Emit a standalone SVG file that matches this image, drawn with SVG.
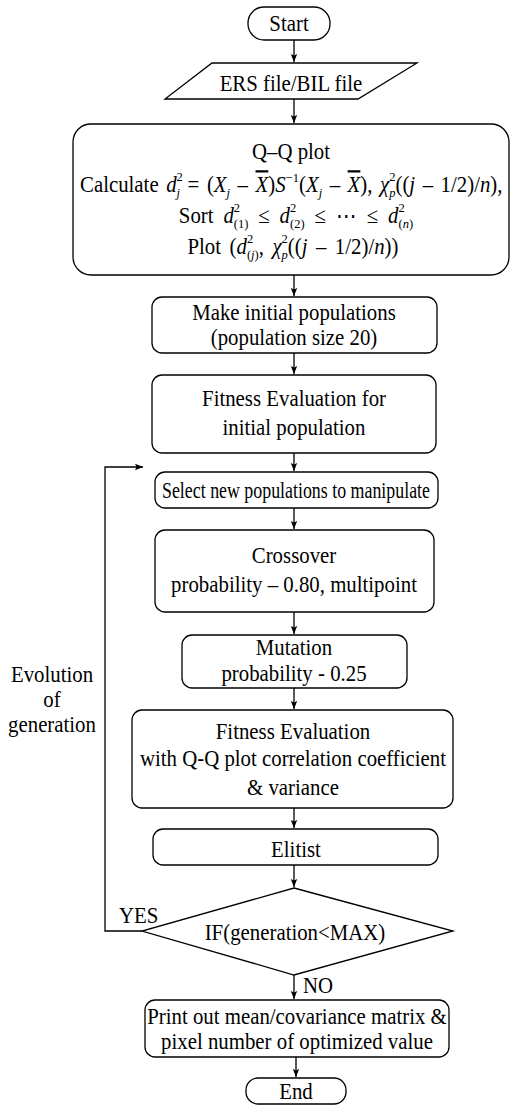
<svg xmlns="http://www.w3.org/2000/svg" width="510" height="1106" viewBox="0 0 510 1106">
<style>
text{font-family:"Liberation Serif","Times New Roman",serif;font-size:22.4px;fill:#000;transform-box:fill-box;transform:scaleX(0.93)}
.m{text-anchor:middle;transform-origin:50% 50%}
.l{transform-origin:0 50%}
.ns{transform:none}
.i{font-style:italic}
.s{font-size:13.5px}
.ov{text-decoration:overline}
.b{fill:#fff;stroke:#000;stroke-width:1.3}
.c{fill:none;stroke:#000;stroke-width:1.3}
</style>
<defs>
<marker id="ah" markerUnits="userSpaceOnUse" markerWidth="10" markerHeight="10" refX="8" refY="4" orient="auto">
<path d="M0,0.8 L8,4 L0,7.2 L1.5,4 z" fill="#000"/>
</marker>
</defs>
<rect width="510" height="1106" fill="#fff"/>

<g id="connectors">
<path class="c" d="M294,40 V62" marker-end="url(#ah)"/>
<path class="c" d="M294,99 V123" marker-end="url(#ah)"/>
<path class="c" d="M294,275 V296" marker-end="url(#ah)"/>
<path class="c" d="M294,353 V374" marker-end="url(#ah)"/>
<path class="c" d="M294,453 V471" marker-end="url(#ah)"/>
<path class="c" d="M294,508 V529" marker-end="url(#ah)"/>
<path class="c" d="M294,612 V634" marker-end="url(#ah)"/>
<path class="c" d="M294,688 V709" marker-end="url(#ah)"/>
<path class="c" d="M294,808 V828" marker-end="url(#ah)"/>
<path class="c" d="M294,865 V887" marker-end="url(#ah)"/>
<path class="c" d="M294,975 V999" marker-end="url(#ah)"/>
<path class="c" d="M296,1057 V1077" marker-end="url(#ah)"/>
<path class="c" d="M142,931 H105 V467 H143" marker-end="url(#ah)"/>
<text class="l" x="119" y="923">YES</text>
<text class="l" x="303" y="993">NO</text>
<text class="m" x="52" y="682">Evolution</text>
<text class="m" x="52" y="707">of</text>
<text class="m" x="52" y="732">generation</text>
</g>

<g id="start">
<rect class="b" x="248" y="7" width="82" height="33" rx="16"/>
<text class="m" x="289" y="31">Start</text>
</g>

<g id="input">
<polygon class="b" points="212,63 417,63 358,99 165,99"/>
<text class="m" x="291" y="91">ERS file/BIL file</text>
</g>

<g id="qqplot">
<rect class="b" x="73" y="124" width="436" height="151" rx="18"/>
<text class="m" x="291" y="159">Q–Q plot</text>
<text class="l" x="80" y="192" style="word-spacing:2.5px">Calculate <tspan class="i">d</tspan><tspan class="s" dy="-10.5">2</tspan><tspan class="s i" dx="-6.75" dy="15.5">j</tspan><tspan dy="-5"> = (</tspan><tspan class="i">X</tspan><tspan class="s i" dy="5">j</tspan><tspan dy="-5"> – </tspan><tspan class="i ov">X</tspan><tspan>)</tspan><tspan class="i">S</tspan><tspan class="s" dy="-10">−1</tspan><tspan dy="10">(</tspan><tspan class="i">X</tspan><tspan class="s i" dy="5">j</tspan><tspan dy="-5"> – </tspan><tspan class="i ov">X</tspan><tspan>), </tspan><tspan class="i">χ</tspan><tspan class="s" dy="-10.5">2</tspan><tspan class="s i" dx="-6.75" dy="15.5">p</tspan><tspan dy="-5">((</tspan><tspan class="i">j</tspan><tspan> – 1/2)/</tspan><tspan class="i">n</tspan><tspan>),</tspan></text>
<text class="m" x="296" y="223" style="word-spacing:5px">Sort <tspan class="i">d</tspan><tspan class="s" dy="-10.5">2</tspan><tspan class="s" dx="-6.75" dy="15.5">(1)</tspan><tspan dy="-5"> ≤ </tspan><tspan class="i">d</tspan><tspan class="s" dy="-10.5">2</tspan><tspan class="s" dx="-6.75" dy="15.5">(2)</tspan><tspan dy="-5"> ≤ ⋯ ≤ </tspan><tspan class="i">d</tspan><tspan class="s" dy="-10.5">2</tspan><tspan class="s" dx="-6.75" dy="15.5">(<tspan class="i">n</tspan>)</tspan></text>
<text class="m" x="293" y="254" style="word-spacing:3.5px">Plot (<tspan class="i">d</tspan><tspan class="s" dy="-10.5">2</tspan><tspan class="s" dx="-6.75" dy="15.5">(<tspan class="i">j</tspan>)</tspan><tspan dy="-5">, </tspan><tspan class="i">χ</tspan><tspan class="s" dy="-10.5">2</tspan><tspan class="s i" dx="-6.75" dy="15.5">p</tspan><tspan dy="-5">((</tspan><tspan class="i">j</tspan><tspan> – 1/2)/</tspan><tspan class="i">n</tspan><tspan>))</tspan></text>
</g>

<g id="init">
<rect class="b" x="152" y="297" width="285" height="56" rx="10"/>
<text class="m" x="294" y="320">Make initial populations</text>
<text class="m" x="294" y="345">(population size 20)</text>
</g>

<g id="fitness1">
<rect class="b" x="152" y="375" width="284" height="78" rx="10"/>
<text class="m" x="294" y="406">Fitness Evaluation for</text>
<text class="m" x="294" y="435">initial population</text>
</g>

<g id="select">
<rect class="b" x="155" y="472" width="283" height="36" rx="10"/>
<text class="ns" x="162" y="498" textLength="268" lengthAdjust="spacingAndGlyphs">Select new populations to manipulate</text>
</g>

<g id="crossover">
<rect class="b" x="155" y="530" width="279" height="82" rx="10"/>
<text class="m" x="294" y="563">Crossover</text>
<text class="m" x="294" y="592">probability – 0.80, multipoint</text>
</g>

<g id="mutation">
<rect class="b" x="182" y="635" width="225" height="53" rx="10"/>
<text class="m" x="294" y="655">Mutation</text>
<text class="m" x="294" y="681">probability - 0.25</text>
</g>

<g id="fitness2">
<rect class="b" x="132" y="710" width="321" height="98" rx="10"/>
<text class="m" x="293" y="739">Fitness Evaluation</text>
<text class="m" x="293" y="766">with Q-Q plot correlation coefficient</text>
<text class="m" x="293" y="795">&amp; variance</text>
</g>

<g id="elitist">
<rect class="b" x="153" y="829" width="285" height="36" rx="10"/>
<text class="m" x="296" y="857">Elitist</text>
</g>

<g id="decision">
<polygon class="b" points="294,888 453,931 294,975 142,931"/>
<text class="m" x="295" y="940">IF(generation&lt;MAX)</text>
</g>

<g id="output">
<rect class="b" x="145" y="1000" width="304" height="57" rx="10"/>
<text class="m" x="297" y="1024">Print out mean/covariance matrix &amp;</text>
<text class="m" x="297" y="1049">pixel number of optimized value</text>
</g>

<g id="end">
<rect class="b" x="246" y="1078" width="100" height="26" rx="12"/>
<text class="m" x="296" y="1099">End</text>
</g>
</svg>
